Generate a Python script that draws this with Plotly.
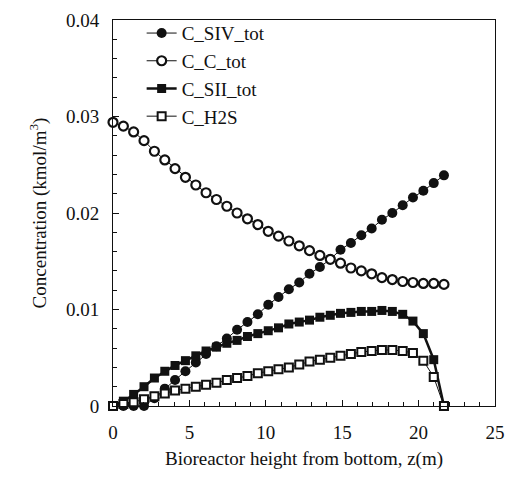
import plotly.graph_objects as go

z = [0, 0.68, 1.35, 2.03, 2.71, 3.39, 4.06, 4.74, 5.42, 6.09, 6.77, 7.45, 8.12,
     8.80, 9.48, 10.16, 10.83, 11.51, 12.19, 12.86, 13.54, 14.22, 14.89, 15.57,
     16.25, 16.93, 17.60, 18.28, 18.96, 19.63, 20.31, 20.99, 21.66]

c_siv_tot = [0, 0, 0, 0, 0.0008, 0.0018, 0.0027, 0.0036, 0.0045, 0.0054, 0.0062,
             0.0070, 0.0079, 0.0087, 0.0095, 0.0105, 0.0113, 0.0121, 0.0128, 0.0137,
             0.0144, 0.0152, 0.0162, 0.0169, 0.0177, 0.0184, 0.0193, 0.0200, 0.0208,
             0.0216, 0.0223, 0.0231, 0.0239]

c_c_tot = [0.0294, 0.0290, 0.0284, 0.0275, 0.0264, 0.0255, 0.0246, 0.0237, 0.0229,
           0.0221, 0.0214, 0.0207, 0.0200, 0.0194, 0.0188, 0.0181, 0.0176, 0.0171,
           0.0166, 0.0161, 0.0156, 0.0152, 0.0148, 0.0143, 0.0140, 0.0137, 0.0133,
           0.0131, 0.0129, 0.0128, 0.0127, 0.0127, 0.0126]

c_sii_tot = [0, 0.0005, 0.0012, 0.0020, 0.0029, 0.0036, 0.0042, 0.0047, 0.0052,
             0.0057, 0.0061, 0.0065, 0.0068, 0.0072, 0.0075, 0.0078, 0.0081, 0.0085,
             0.0087, 0.0089, 0.0092, 0.0094, 0.0096, 0.0097, 0.0098, 0.0098, 0.0099,
             0.0098, 0.0095, 0.0088, 0.0075, 0.0048, 0]

c_h2s = [0, 0.0002, 0.0004, 0.0007, 0.0010, 0.0013, 0.0016, 0.0018, 0.0020, 0.0022,
         0.0024, 0.0027, 0.0029, 0.0031, 0.0034, 0.0036, 0.0038, 0.0040, 0.0043,
         0.0046, 0.0048, 0.0050, 0.0052, 0.0054, 0.0056, 0.0057, 0.0058, 0.0058,
         0.0057, 0.0055, 0.0047, 0.0030, 0]

FONT = "Liberation Serif"
INK = "#111111"

fig = go.Figure()
fig.add_trace(go.Scatter(
    x=z, y=c_siv_tot, name="C_SIV_tot", mode="lines+markers", cliponaxis=False,
    line=dict(color=INK, width=1),
    marker=dict(symbol="circle", size=10, color=INK, line=dict(color=INK, width=0))))
fig.add_trace(go.Scatter(
    x=z, y=c_c_tot, name="C_C_tot", mode="lines+markers", cliponaxis=False,
    line=dict(color=INK, width=1),
    marker=dict(symbol="circle", size=9, color="white", line=dict(color=INK, width=2.2))))
fig.add_trace(go.Scatter(
    x=z, y=c_sii_tot, name="C_SII_tot", mode="lines+markers", cliponaxis=False,
    line=dict(color=INK, width=2.5),
    marker=dict(symbol="square", size=9, color=INK, line=dict(color=INK, width=0))))
fig.add_trace(go.Scatter(
    x=z, y=c_h2s, name="C_H2S", mode="lines+markers", cliponaxis=False,
    line=dict(color=INK, width=1),
    marker=dict(symbol="square", size=8, color="white", line=dict(color=INK, width=2))))

fig.update_layout(
    width=515, height=491,
    margin=dict(l=113, r=10, t=20, b=85),
    paper_bgcolor="white", plot_bgcolor="white",
    font=dict(family=FONT, size=19, color=INK),
    showlegend=True,
    legend=dict(x=0.075, y=1.015, xanchor="left", yanchor="top",
                bgcolor="rgba(0,0,0,0)", borderwidth=0,
                font=dict(family=FONT, size=19, color=INK),
                tracegroupgap=0, itemwidth=30),
    xaxis=dict(range=[0, 25], dtick=5, tick0=0, showgrid=False, zeroline=False,
               showline=True, linecolor=INK, linewidth=1, mirror=True,
               ticks="inside", ticklen=6, tickcolor=INK, ticklabelstandoff=9,
               minor=dict(dtick=1, ticks="inside", ticklen=4, tickcolor=INK),
               tickfont=dict(family=FONT, size=19, color=INK),
               title=dict(text="Bioreactor height from bottom, z(m)",
                          font=dict(family=FONT, size=19, color=INK), standoff=9)),
    yaxis=dict(range=[0, 0.04], dtick=0.01, tick0=0, showgrid=False, zeroline=False,
               showline=True, linecolor=INK, linewidth=1, mirror=True,
               ticks="inside", ticklen=6, tickcolor=INK, ticklabelstandoff=9,
               minor=dict(dtick=0.002, ticks="inside", ticklen=4, tickcolor=INK),
               tickfont=dict(family=FONT, size=19, color=INK),
               title=dict(text="Concentration (kmol/m<sup>3</sup>)",
                          font=dict(family=FONT, size=19, color=INK), standoff=14)),
)

fig.write_html("out.html")
